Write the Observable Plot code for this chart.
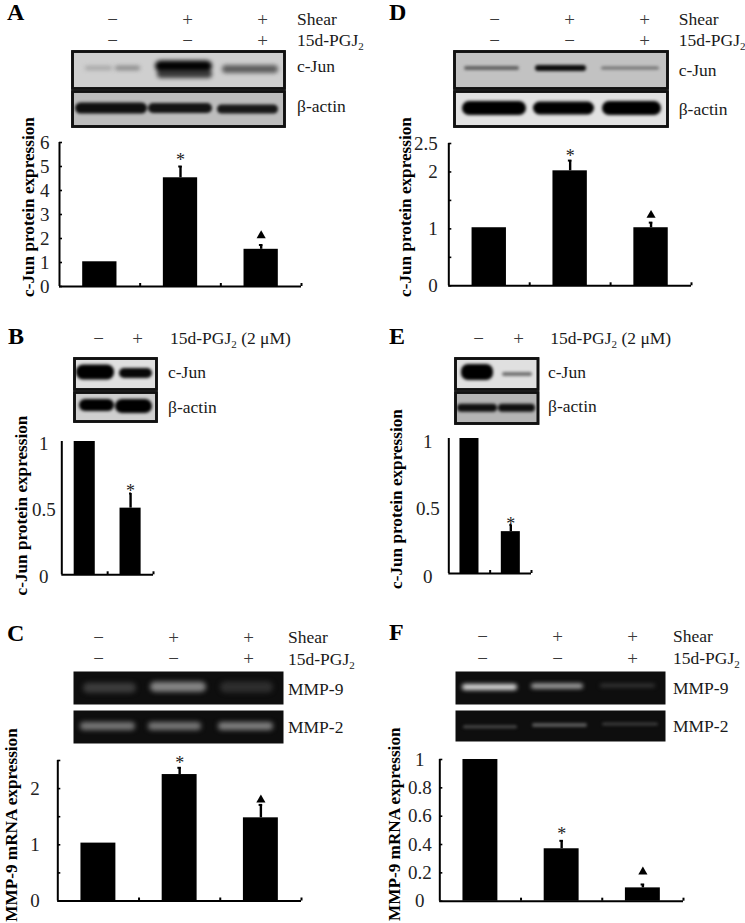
<!DOCTYPE html>
<html><head><meta charset="utf-8">
<style>
html,body{margin:0;padding:0;background:#fff;}
#page{position:relative;width:745px;height:923px;overflow:hidden;font-family:"Liberation Serif",serif;color:#1a1a1a;}
.lab{position:absolute;white-space:nowrap;font-size:17.5px;line-height:1;transform:translateY(-45%);}
.lab sub{font-size:11px;line-height:0;vertical-align:-4px;}
.letter{position:absolute;font-weight:bold;font-size:24px;line-height:1;transform:translateY(-50%);color:#000;}
</style>
<script src="https://cdn.jsdelivr.net/npm/d3@7"></script>
<script src="https://cdn.jsdelivr.net/npm/@observablehq/plot@0.6"></script>
</head><body><div id="page"></div>
<script>
// ---------- categories and treatment rows
const shearConditions = ["control", "shear", "shear + 15d-PGJ2"];
const drugConditions = ["vehicle", "15d-PGJ2"];
const shearSigns = ["−", "+", "+"];
const pgjSigns = ["−", "−", "+"];
const drugSigns = ["−", "+"];

// ---------- bar values, error-bar tops, significance marker heights
const valuesA = [1.03, 4.53, 1.55];
const errTopA = [null, 5.0, 1.73];
const starA = 5.42, triA = 2.12;
const ticksA = [0, 1, 2, 3, 4, 5, 6];

const valuesD = [1.02, 2.02, 1.02];
const errTopD = [null, 2.2, 1.11];
const starD = 2.34, triD = 1.24;
const ticksD = [0, 1, 2, 2.5];
const minorD = [0, 0.5, 1, 1.5, 2, 2.5];

const valuesB = [1, 0.5];
const errTopB = [null, 0.61];
const starB = 0.655;
const ticksB = [0, 0.5, 1];

const valuesE = [1, 0.31];
const errTopE = [null, 0.36];
const starE = 0.39;
const ticksE = [0, 0.5, 1];

const valuesC = [1.03, 2.25, 1.48];
const errTopC = [null, 2.37, 1.71];
const starC = 2.51, triC = 1.8;
const ticksC = [0, 1, 2];
const minorC = [0, 0.5, 1, 1.5, 2, 2.5];

const valuesF = [1, 0.37, 0.094];
const errTopF = [null, 0.426, 0.118];
const starF = 0.5, triF = 0.207;
const ticksF = [0, 0.2, 0.4, 0.6, 0.8, 1];

// ---------- blot bands: [from, to, centre, thickness, intensity]
const blotAJun = [[13,40,17,3,.28],[43,68,17,4,.38],[83,140,15,11,1],[85,140,23,8,.72],[150,206,18,8,.55]];
const blotAActin = [[3,75,17,11,.92],[76,140,17,10,.9],[145,206,18,9,.88]];
const blotDJun = [[10,65,17,4,.5],[81,132,17,6,.95],[147,205,17,3,.42]];
const blotDActin = [[8,72,17,14,1],[79,140,17,13,1],[148,207,17,14,1]];
const blotBJun = [[2,40,14,15,1],[45,78,15,10,.97]];
const blotBActin = [[5,40,13,12,1],[41,78,14,14,1]];
const blotEJun = [[6,38,14,16,1],[47,77,16,4,.5]];
const blotEActin = [[2,42,15.7,8,.92],[43,80,15.7,8,.92]];
const gelCMmp9 = [[10,63,16.7,10,.2],[77,133,15.7,10,.52],[147,200,16,11,.14]];
const gelCMmp2 = [[7,62,16,8,.46],[75,128,16,8,.46],[145,200,16,8,.5]];
const gelFMmp9 = [[7,62,16,6,.9],[76,128,15,5,.68],[145,200,14.5,3,.22]];
const gelFMmp2 = [[8,62,16.7,3,.26],[77,132,15,4,.32],[147,203,14,3,.2]];

const page = document.getElementById("page");
const FONT = "Liberation Serif";

function put(svg, left, top) {
  svg.style.position = "absolute";
  svg.style.left = left + "px";
  svg.style.top = top + "px";
  svg.style.background = "transparent";
  svg.style.overflow = "visible";
  page.appendChild(svg);
}
function label(html, left, y) {
  const d = document.createElement("div");
  d.className = "lab";
  d.innerHTML = html;
  d.style.left = left + "px";
  d.style.top = y + "px";
  page.appendChild(d);
}
function letter(t, left, y) {
  const d = document.createElement("div");
  d.className = "letter";
  d.textContent = t;
  d.style.left = left + "px";
  d.style.top = y + "px";
  page.appendChild(d);
}

function signs(cats, rows, xRange, yTop, yGap) {
  const data = rows.flatMap((r, j) => r.map((s, i) => ({cat: cats[i], row: j, sign: s})));
  put(Plot.plot({
    width: 745, height: yGap + 30, margin: 0,
    style: {fontFamily: FONT},
    x: {type: "point", domain: cats, range: xRange, padding: 0, axis: null},
    y: {type: "point", domain: rows.map((_, j) => j), range: rows.length > 1 ? [15, 15 + yGap] : [15, 15], padding: 0, axis: null},
    marks: [Plot.text(data, {x: "cat", y: "row", text: "sign", fontSize: 19, fill: "#3a3a3a"})]
  }), 0, yTop - 15);
}

function strip(bands, {left, top, W, H, bg, ramp, blur, stroke}) {
  const m = 2;
  put(Plot.plot({
    width: W + 2 * m, height: H + 2 * m, margin: m,
    x: {domain: [0, W], axis: null},
    y: {domain: [H, 0], axis: null},
    color: {type: "linear", domain: [0, 1], range: ramp},
    marks: [
      Plot.frame({fill: bg, stroke: stroke || bg, strokeWidth: stroke ? 2.6 : 0}),
      Plot.rect(bands, {
        x1: d => d[0], x2: d => d[1],
        y1: d => d[2] - d[3] / 2, y2: d => d[2] + d[3] / 2,
        fill: d => d[4], r: 7, clip: "frame", imageFilter: `blur(${blur}px)`
      }),
      Plot.frame({stroke: stroke || bg, strokeWidth: stroke ? 2.6 : 0})
    ]
  }), left - m, top - m);
}

function bars({cats, values, errTop, star, tri, ticks, minor, bw, left, axisX, right, topY, baseY, yMax,
               ylabel, labelX, labelY, anchor, padding, tickDy}) {
  const n = cats.length;
  const svgW = right + 14 - left;
  const mT = 40, mB = Math.min(24, 923 - baseY);
  const rows = cats.map((c, i) => ({c, i, v: values[i], e: errTop[i]}));
  const withErr = rows.filter(d => d.e != null);
  const w = right - axisX;
  const starIndex = errTop.indexOf(Math.max(...errTop.filter(e => e != null)));
  const marks = [
    Plot.rectY(rows, {x1: d => d.i + (1 - bw) / 2, x2: d => d.i + (1 + bw) / 2, y1: 0, y2: "v", fill: "#000"}),
    Plot.ruleX(withErr, {x: d => d.i + .5, y1: "v", y2: "e", strokeWidth: 2.4, stroke: "#000"}),
    Plot.ruleY(withErr, {x1: d => d.i + .5 - .022, x2: d => d.i + .5 + .022, y: "e", strokeWidth: 2, stroke: "#000"}),
    Plot.ruleX([0], {y1: 0, y2: yMax, strokeWidth: 2, stroke: "#000"}),
    Plot.ruleY([0], {strokeWidth: 2, stroke: "#000"}),
    Plot.ruleX(d3.range(1, n + 1), {y1: 0, y2: yMax * 3 / (baseY - topY), strokeWidth: 2, stroke: "#000"}),
    Plot.axisY(ticks, {anchor: "left", tickSize: 0, tickPadding: padding, textAnchor: anchor, fontSize: 19, dy: tickDy || 0, label: null, fill: "#222", tickFormat: d => String(d)}),
    Plot.text([star], {x: starIndex + .5, y: d => d, text: () => "*", fontSize: 18, dy: 3.5, fill: "#222"}),
    Plot.text([ylabel], {frameAnchor: "left", textAnchor: "middle", rotate: -90, text: d => d, fontWeight: "bold", fontSize: 17.2, fill: "#000",
      dx: labelX - axisX, dy: labelY - (topY + baseY) / 2})
  ];
  const tickRows = minor || ticks;
  marks.push(Plot.ruleY(tickRows, {x1: 0, x2: n * 3 / w, strokeWidth: 1.6, stroke: "#000"}));
  if (tri != null) marks.push(Plot.dot([tri], {x: n - .5, y: d => d, symbol: "triangle", r: 3.4, fill: "#000"}));
  put(Plot.plot({
    width: svgW, height: mT + (baseY - topY) + mB,
    marginLeft: axisX - left, marginRight: svgW - (right - left), marginTop: mT, marginBottom: mB,
    style: {fontFamily: FONT},
    x: {domain: [0, n], axis: null},
    y: {domain: [0, yMax]},
    marks
  }), left, topY - mT);
}

const western = bg => [bg, "#000"];
const gel = ["#0e0e0e", "#f2f2f2"];

// ---------- Panel A
letter("A", 7, 12);
signs(shearConditions, [shearSigns, pgjSigns], [112, 262], 19, 21);
label("Shear", 297, 19);
label("15d-PGJ<sub>2</sub>", 297, 40);
strip(blotAJun, {left: 72, top: 51, W: 212, H: 37, bg: "#cfcfcf", ramp: western("#cfcfcf"), blur: 2, stroke: "#111"});
strip(blotAActin, {left: 72, top: 91, W: 212, H: 35, bg: "#bdbdbd", ramp: western("#bdbdbd"), blur: 1.7, stroke: "#111"});
label("c-Jun", 297, 66);
label("β-actin", 297, 106);
bars({cats: shearConditions, values: valuesA, errTop: errTopA, star: starA, tri: triA, ticks: ticksA, bw: .425,
  left: 0, axisX: 59, right: 301, topY: 142, baseY: 286, yMax: 6,
  ylabel: "c-Jun protein expression", labelX: 28, labelY: 206.5, anchor: "end", padding: 10});

// ---------- Panel D
letter("D", 389, 12);
signs(shearConditions, [shearSigns, pgjSigns], [493.7, 644.3], 19, 21);
label("Shear", 678.7, 19);
label("15d-PGJ<sub>2</sub>", 678.7, 40);
strip(blotDJun, {left: 454, top: 51, W: 213, H: 37, bg: "#c2c2c2", ramp: western("#c2c2c2"), blur: 1.6, stroke: "#111"});
strip(blotDActin, {left: 454, top: 91, W: 213, H: 35, bg: "#e2e2e2", ramp: western("#e2e2e2"), blur: 1.6, stroke: "#111"});
label("c-Jun", 678.7, 70);
label("β-actin", 678.7, 109);
bars({cats: shearConditions, values: valuesD, errTop: errTopD, star: starD, tri: triD, ticks: ticksD, minor: minorD, bw: .425,
  left: 372, axisX: 448.3, right: 691, topY: 143, baseY: 285.3, yMax: 2.5,
  ylabel: "c-Jun protein expression", labelX: 405, labelY: 206.5, anchor: "end", padding: 11});

// ---------- Panel B
letter("B", 8, 336);
signs(drugConditions, [drugSigns], [97.7, 137.3], 338, 0);
label("15d-PGJ<sub>2</sub> (2 μM)", 170, 338);
strip(blotBJun, {left: 74, top: 358, W: 82, H: 31, bg: "#e0e0e0", ramp: western("#e0e0e0"), blur: 1.5, stroke: "#111"});
strip(blotBActin, {left: 74, top: 392, W: 82, H: 29, bg: "#cfcfcf", ramp: western("#cfcfcf"), blur: 1.5, stroke: "#111"});
label("c-Jun", 168, 372.3);
label("β-actin", 168, 406.7);
bars({cats: drugConditions, values: valuesB, errTop: errTopB, star: starB, ticks: ticksB, minor: [], bw: .46,
  left: 0, axisX: 61.3, right: 153, topY: 441, baseY: 574.3, yMax: 1,
  ylabel: "c-Jun protein expression", labelX: 20.7, labelY: 505, anchor: "middle", padding: 18, tickDy: 2});

// ---------- Panel E
letter("E", 389, 336);
signs(drugConditions, [drugSigns], [477.7, 517.7], 338, 0);
label("15d-PGJ<sub>2</sub> (2 μM)", 550.3, 338);
strip(blotEJun, {left: 455, top: 358, W: 82.5, H: 31, bg: "#e0e0e0", ramp: western("#e0e0e0"), blur: 1.5, stroke: "#111"});
strip(blotEActin, {left: 455, top: 392, W: 82.5, H: 31, bg: "#b5b5b5", ramp: western("#b5b5b5"), blur: 1.5, stroke: "#111"});
label("c-Jun", 548, 372.3);
label("β-actin", 548, 406);
bars({cats: drugConditions, values: valuesE, errTop: errTopE, star: starE, ticks: ticksE, minor: [], bw: .46,
  left: 372, axisX: 448.3, right: 531, topY: 438.3, baseY: 573.3, yMax: 1,
  ylabel: "c-Jun protein expression", labelX: 396, labelY: 498.8, anchor: "middle", padding: 21, tickDy: 3});

// ---------- Panel C
letter("C", 7, 633);
signs(shearConditions, [shearSigns, pgjSigns], [97.7, 247.7], 637.3, 21.7);
label("Shear", 288, 637.3);
label("15d-PGJ<sub>2</sub>", 288, 659);
strip(gelCMmp9, {left: 73, top: 671, W: 210, H: 33, bg: "#0e0e0e", ramp: gel, blur: 2.8});
strip(gelCMmp2, {left: 73, top: 710, W: 210, H: 33, bg: "#0e0e0e", ramp: gel, blur: 2.6});
label("MMP-9", 288, 689);
label("MMP-2", 288, 727);
bars({cats: shearConditions, values: valuesC, errTop: errTopC, star: starC, tri: triC, ticks: ticksC, minor: minorC, bw: .43,
  left: 0, axisX: 57.3, right: 301, topY: 759.5, baseY: 900, yMax: 2.5,
  ylabel: "MMP-9 mRNA expression", labelX: 11, labelY: 824, anchor: "end", padding: 18});

// ---------- Panel F
letter("F", 389, 632);
signs(shearConditions, [shearSigns, pgjSigns], [482, 632.7], 636, 22.3);
label("Shear", 673, 636);
label("15d-PGJ<sub>2</sub>", 673, 658.3);
strip(gelFMmp9, {left: 455, top: 671, W: 210, H: 33, bg: "#0e0e0e", ramp: gel, blur: 1.9});
strip(gelFMmp2, {left: 455, top: 710, W: 210, H: 31, bg: "#0e0e0e", ramp: gel, blur: 1.7});
label("MMP-9", 673, 688);
label("MMP-2", 673, 725.7);
bars({cats: shearConditions, values: valuesF, errTop: errTopF, star: starF, tri: triF, ticks: ticksF, bw: .43,
  left: 372, axisX: 439.3, right: 683, topY: 759.3, baseY: 901, yMax: 1,
  ylabel: "MMP-9 mRNA expression", labelX: 393.7, labelY: 824, anchor: "middle", padding: 20});
</script></body></html>
